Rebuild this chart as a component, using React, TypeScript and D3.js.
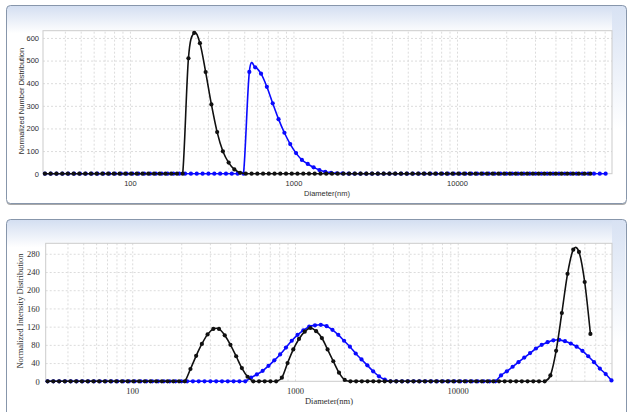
import React, { useEffect, useRef } from 'react';
import * as d3 from 'd3';

// size bins (nm) of the two measurements
const blackDiam = [
  30.2, 32.7, 35.5, 38.5, 41.7, 45.2, 49.0, 53.2,
  57.7, 62.5, 67.8, 73.5, 79.7, 86.4, 93.6, 101.5,
  110.1, 119.4, 129.4, 140.3, 152.1, 164.9, 178.8, 193.9,
  210.2, 227.9, 247.1, 267.9, 290.4, 314.9, 341.4, 370.1,
  401.3, 435.1, 471.7, 511.4, 554.5, 601.2, 651.8, 706.6,
  766.1, 830.6, 900.5, 976.3, 1058, 1148, 1244, 1349,
  1463, 1586, 1720, 1864, 2021, 2191, 2376, 2576,
  2793, 3028, 3283, 3559, 3859, 4184, 4536, 4918,
  5332, 5781, 6268, 6795, 7367, 7987, 8660, 9389,
  10180, 11040, 11970, 12970, 14070, 15250, 16540, 17930,
  19440, 21070, 22850, 24770, 26860, 29120, 31570, 34230,
  37110, 40230, 43620, 47290, 51280, 55590, 60270, 65350,
];
const blueDiam = [
  30.2, 32.8, 35.6, 38.7, 42.0, 45.6, 49.5, 53.7,
  58.3, 63.3, 68.7, 74.6, 81.0, 88.0, 95.5, 103.7,
  112.6, 122.2, 132.7, 144.1, 156.4, 169.8, 184.4, 200.2,
  217.4, 236.0, 256.2, 278.2, 302.1, 328.0, 356.1, 386.6,
  419.7, 455.7, 494.8, 537.2, 583.3, 633.3, 687.6, 746.5,
  810.5, 880.0, 955.4, 1037, 1126, 1223, 1328, 1441,
  1565, 1699, 1845, 2003, 2175, 2361, 2564, 2784,
  3022, 3281, 3563, 3868, 4200, 4560, 4951, 5375,
  5836, 6336, 6880, 7469, 8110, 8805, 9559, 10380,
  11270, 12230, 13280, 14420, 15660, 17000, 18450, 20040,
  21750, 23620, 25640, 27840, 30230, 32820, 35630, 38690,
  42000, 45600, 49510, 53760, 58370, 63370, 68800, 74700,
  81100, 88050,
];

// number distribution
const numberBlack = [
  0, 0, 0, 0, 0, 0, 0, 0, 0, 0, 0, 0, 0, 0, 0, 0, 0, 0, 0, 0, 0, 0, 0, 0, 0,
  510, 622, 577, 449, 306, 184, 99, 49, 19, 4,
  0, 0, 0, 0, 0, 0, 0, 0, 0, 0, 0, 0, 0, 0, 0, 0, 0, 0, 0, 0,
  0, 0, 0, 0, 0, 0, 0, 0, 0, 0, 0, 0, 0, 0, 0, 0, 0, 0, 0, 0,
  0, 0, 0, 0, 0, 0, 0, 0, 0, 0, 0, 0, 0, 0, 0, 0, 0, 0, 0, 0, 0,
];
const numberBlue = [
  0, 0, 0, 0, 0, 0, 0, 0, 0, 0, 0, 0, 0, 0, 0, 0, 0, 0, 0, 0,
  0, 0, 0, 0, 0, 0, 0, 0, 0, 0, 0, 0, 0, 0, 0,
  450, 470, 442, 384, 311, 241, 181, 131, 91, 61, 43, 28, 16, 8, 4, 2, 1,
  0, 0, 0, 0, 0, 0, 0, 0, 0, 0, 0, 0, 0, 0, 0, 0, 0, 0, 0, 0,
  0, 0, 0, 0, 0, 0, 0, 0, 0, 0, 0, 0, 0, 0, 0, 0, 0, 0, 0, 0,
  0, 0, 0, 0, 0,
];

// intensity distribution
const intensityBlack = [
  0, 0, 0, 0, 0, 0, 0, 0, 0, 0, 0, 0, 0, 0, 0, 0, 0, 0, 0, 0, 0, 0, 0, 0, 0,
  27, 56, 82, 103, 115, 115, 101, 80, 55, 29, 10,
  0, 0, 0, 0, 0,
  8, 40, 70, 93, 109, 117, 110, 95, 70, 44, 19, 3,
  0, 0, 0, 0, 0, 0, 0, 0, 0, 0, 0, 0, 0, 0, 0, 0, 0, 0, 0, 0,
  0, 0, 0, 0, 0, 0, 0, 0, 0, 0, 0, 0, 0, 0, 0,
  13, 67, 150, 236, 289, 284, 218, 104,
];
const intensityBlue = [
  0, 0, 0, 0, 0, 0, 0, 0, 0, 0, 0, 0, 0, 0, 0, 0, 0, 0, 0, 0,
  0, 0, 0, 0, 0, 0, 0, 0, 0, 0, 0, 0, 0, 0, 0,
  8, 15, 23, 34, 46, 59, 74, 89, 102, 112, 120, 123, 124, 121, 113, 102, 89, 76, 61, 48, 35, 22, 11, 4,
  0, 0, 0, 0, 0, 0, 0, 0, 0, 0, 0, 0, 0, 0, 0, 0, 0, 0, 0,
  13, 22, 32, 42, 52, 62, 72, 80, 86, 90, 91, 88, 83, 76, 67, 55, 42, 28, 16, 2,
];

const numberTicks = [0, 100, 200, 300, 400, 500, 600];
const intensityTicks = [0, 40, 80, 120, 160, 200, 240, 280];
const xTickLabels = [100, 1000, 10000];
const xDomain = [29.4, 88700];

const drawPanel = (svg: any, p: any) => {
  const { frame, plot } = p;
  const g = svg.append('g');

  // frame with the bluish header
  g.append('rect')
    .attr('x', frame.x).attr('y', frame.y + 1.5)
    .attr('width', frame.w).attr('height', frame.h)
    .attr('rx', 4).attr('fill', '#a9a9a9');
  g.append('rect')
    .attr('x', frame.x).attr('y', frame.y)
    .attr('width', frame.w).attr('height', frame.h)
    .attr('rx', 4).attr('fill', 'url(#hdr)');
  g.append('rect')
    .attr('x', plot.r).attr('y', frame.y + 1)
    .attr('width', frame.x + frame.w - plot.r - 1).attr('height', frame.h * 0.62)
    .attr('fill', 'url(#side)');
  g.append('rect')
    .attr('x', frame.x).attr('y', frame.y)
    .attr('width', frame.w).attr('height', frame.h)
    .attr('rx', 4).attr('fill', 'none').attr('stroke', '#8796ab');

  const x = d3.scaleLog().domain(xDomain).range([plot.l, plot.r]);
  const y = d3.scaleLinear().domain([0, p.yMax]).range([plot.b, plot.t]);
  const w = plot.r - plot.l;
  const h = plot.b - plot.t;

  g.append('rect')
    .attr('x', plot.l).attr('y', plot.t).attr('width', w).attr('height', h)
    .attr('fill', '#fff');

  // grid
  const xGrid = g.append('g')
    .attr('transform', 'translate(0,' + plot.b + ')')
    .call(d3.axisBottom(x)
      .tickValues(x.ticks().filter((v) => x(v) > plot.l + 3 && x(v) < plot.r - 1))
      .tickSize(-h).tickFormat(() => ''));
  xGrid.select('.domain').remove();
  xGrid.selectAll('line').attr('stroke', '#dcdcdc').attr('stroke-dasharray', '2,2');

  const yGrid = g.append('g')
    .attr('transform', 'translate(' + plot.l + ',0)')
    .call(d3.axisLeft(y).tickValues(p.yTicks.filter((v: number) => v > 0))
      .tickSize(-w).tickFormat(() => ''));
  yGrid.select('.domain').remove();
  yGrid.selectAll('line').attr('stroke', '#dcdcdc').attr('stroke-dasharray', '2,2');

  g.append('rect')
    .attr('x', plot.l).attr('y', plot.t).attr('width', w).attr('height', h)
    .attr('fill', 'none').attr('stroke', '#cbcbcb');

  // axes labels
  const yAxis = g.append('g')
    .attr('transform', 'translate(' + plot.l + ',0)')
    .call(d3.axisLeft(y).tickValues(p.yTicks).tickSize(0).tickPadding(p.yPad));
  yAxis.select('.domain').remove();
  yAxis.attr('font-family', p.font).attr('font-size', p.fs);
  yAxis.selectAll('text').attr('fill', '#2e2e2e');

  const xAxis = g.append('g')
    .attr('transform', 'translate(0,' + plot.b + ')')
    .call(d3.axisBottom(x).tickValues(xTickLabels).tickSize(0).tickPadding(7)
      .tickFormat(d3.format('d')));
  xAxis.select('.domain').remove();
  xAxis.attr('font-family', p.font).attr('font-size', p.fs);
  xAxis.selectAll('text').attr('fill', '#2e2e2e');

  g.append('text')
    .attr('transform', 'translate(' + p.yLabelPos[0] + ',' + p.yLabelPos[1] + ') rotate(-90)')
    .attr('text-anchor', 'middle')
    .attr('font-family', p.font).attr('font-size', p.fs)
    .attr('fill', '#2e2e2e')
    .text(p.yLabel);
  g.append('text')
    .attr('x', p.xLabelPos[0]).attr('y', p.xLabelPos[1])
    .attr('text-anchor', 'middle')
    .attr('font-family', p.font).attr('font-size', p.fs)
    .attr('fill', '#2e2e2e')
    .text('Diameter(nm)');

  // series
  svg.select('defs').append('clipPath').attr('id', 'clip-' + p.id)
    .append('rect').attr('x', plot.l).attr('y', plot.t).attr('width', w).attr('height', h + 1);

  const line = d3.line<[number, number]>()
    .x((d) => x(d[0]))
    .y((d) => y(d[1]))
    .curve(d3.curveCardinal.tension(0));

  const series = [
    { diam: blueDiam, values: p.blue, color: '#0a0aff' },
    { diam: blackDiam, values: p.black, color: '#111' },
  ];
  series.forEach((s) => {
    const pts: [number, number][] = s.values.map((v: number, i: number) => [s.diam[i], v]);
    g.append('path')
      .attr('d', line(pts))
      .attr('fill', 'none')
      .attr('stroke', s.color)
      .attr('stroke-width', 1.6)
      .attr('clip-path', 'url(#clip-' + p.id + ')');
    g.append('g')
      .selectAll('circle')
      .data(pts)
      .enter()
      .append('circle')
      .attr('cx', (d) => x(d[0]))
      .attr('cy', (d) => y(d[1]))
      .attr('r', 2.1)
      .attr('fill', s.color);
  });
};

const App = () => {
  const ref = useRef<SVGSVGElement>(null);

  useEffect(() => {
    const svg = d3.select(ref.current);
    svg.selectAll('*').remove();

    const defs = svg.append('defs');
    const hdr = defs.append('linearGradient').attr('id', 'hdr')
      .attr('x1', 0).attr('y1', 0).attr('x2', 0).attr('y2', 1);
    hdr.append('stop').attr('offset', 0).attr('stop-color', '#d3def1');
    hdr.append('stop').attr('offset', 0.14).attr('stop-color', '#ffffff');
    hdr.append('stop').attr('offset', 1).attr('stop-color', '#ffffff');
    const side = defs.append('linearGradient').attr('id', 'side')
      .attr('x1', 0).attr('y1', 0).attr('x2', 0).attr('y2', 1);
    side.append('stop').attr('offset', 0).attr('stop-color', '#d8e2f3');
    side.append('stop').attr('offset', 1).attr('stop-color', '#ffffff');

    drawPanel(svg, {
      id: 'num',
      frame: { x: 6.5, y: 5.5, w: 620, h: 198 },
      plot: { l: 43, r: 612, t: 30.7, b: 173.7 },
      yMax: 632,
      yTicks: numberTicks,
      black: numberBlack,
      blue: numberBlue,
      font: '"Liberation Sans", Arial, sans-serif',
      fs: 7.5,
      yPad: 4,
      yLabel: 'Normalized Number Distribution',
      yLabelPos: [23.5, 101],
      xLabelPos: [327, 196],
    });

    drawPanel(svg, {
      id: 'int',
      frame: { x: 6.5, y: 219.5, w: 620, h: 200 },
      plot: { l: 45.7, r: 612, t: 243.3, b: 381.3 },
      yMax: 303,
      yTicks: intensityTicks,
      black: intensityBlack,
      blue: intensityBlue,
      font: '"Liberation Serif", "Times New Roman", serif',
      fs: 8.5,
      yPad: 6,
      yLabel: 'Normalized Intensity Distribution',
      yLabelPos: [22.5, 311],
      xLabelPos: [329, 404],
    });
  }, []);

  return (
    <svg
      ref={ref}
      width={628}
      height={412}
      style={{ position: 'absolute', left: 0, top: 0, background: '#fff' }}
    />
  );
};

export default App;
